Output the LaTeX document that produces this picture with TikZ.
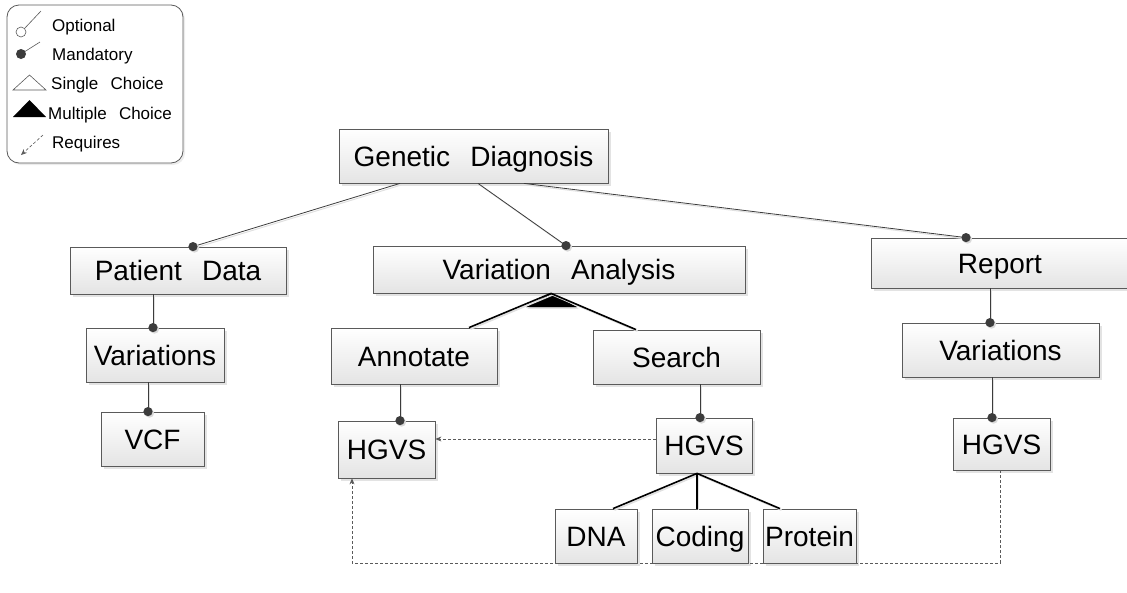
\documentclass[tikz,border=0pt]{standalone}
\usepackage{fontspec}
\setmainfont{Liberation Sans}
\usetikzlibrary{shadows,arrows.meta}
\definecolor{edgegray}{HTML}{5A5A5A}
\definecolor{dotgray}{HTML}{3C3C3C}
\definecolor{boxbot}{HTML}{E4E4E4}
\newcommand\gap{\hspace{0.72em}}
\tikzset{
  feat/.style={draw=edgegray, line width=0.8pt, rectangle, inner sep=0pt,
    top color=white, bottom color=boxbot,
    text height=20pt, text depth=0pt,
    drop shadow={opacity=0.22, shadow xshift=3pt, shadow yshift=-3pt},
    font=\fontsize{28}{32}\selectfont},
  conn/.style={draw=dotgray, line width=0.8pt,
    preaction={draw=black!12, line width=1pt, transform canvas={shift={(1.5pt,-1.5pt)}}}},
  choice/.style={draw=black, line width=1.6pt,
    preaction={draw=black!12, line width=1.6pt, transform canvas={shift={(1.5pt,-1.5pt)}}}},
  req/.style={draw=edgegray, line width=0.7pt, dash pattern=on 3pt off 2pt,
    -{Stealth[length=6pt,width=5pt]}},
  mdot/.style={fill=dotgray},
  legtext/.style={anchor=west, inner sep=0pt, text height=12.2pt, text depth=0pt,
    font=\fontsize{17}{19}\selectfont},
}
\newcommand\mand[1]{%
  \fill[black!15] ([shift={(1.5pt,-1.5pt)}]#1) circle (4.6);
  \fill[mdot] (#1) circle (4.6);}
\begin{document}
\begin{tikzpicture}[x=1pt,y=-1pt]
\useasboundingbox (0,0) rectangle (1127,592);

% legend
\draw[draw=edgegray, line width=0.8pt, rounded corners=12pt, fill=white,
  drop shadow={opacity=0.15, shadow xshift=2pt, shadow yshift=-2pt}]
  (7,5) rectangle (183,163);
\draw[edgegray, line width=0.6pt] (24.5,28.5) -- (41,11);
\draw[edgegray, line width=0.6pt, fill=white] (21,32) circle (5);
\node[legtext] (lopt) at (52,25) {Optional};
\draw[edgegray, line width=0.6pt] (21,54) -- (40,42);
\fill[dotgray] (21,54) circle (5);
\node[legtext] (lman) at (52,54) {Mandatory};
\draw[edgegray, line width=0.6pt, fill=white] (13,90) -- (46,90) -- (29.5,75) -- cycle;
\node[legtext] (lsin) at (51,83) {Single\gap Choice};
\fill[black] (13,117) -- (46,117) -- (29.5,100) -- cycle;
\node[legtext] (lmul) at (48,113) {Multiple\gap Choice};
\draw[req, line width=0.6pt] (43,135) -- (21,155);
\node[legtext] (lreq) at (52,142) {Requires};

% feature boxes
\node[feat, minimum width=269, minimum height=54] (gd) at (473.5,156) {Genetic\gap Diagnosis};
\node[feat, minimum width=216, minimum height=47] (pd) at (178,270.5) {Patient\gap Data};
\node[feat, minimum width=372, minimum height=47] (va) at (559,269.5) {Variation\gap Analysis};
\node[feat, minimum width=258, minimum height=50] (rep) at (1000,263) {Report};
\node[feat, minimum width=138, minimum height=54] (varL) at (155,355) {Variations};
\node[feat, minimum width=103, minimum height=54] (vcf) at (152.5,439) {VCF};
\node[feat, minimum width=166, minimum height=56] (ann) at (414,356) {Annotate};
\node[feat, minimum width=167, minimum height=54] (sea) at (676.5,357) {Search};
\node[feat, minimum width=97, minimum height=57] (hL) at (386.5,449.5) {HGVS};
\node[feat, minimum width=96, minimum height=55] (hM) at (704,445.5) {HGVS};
\node[feat, minimum width=197, minimum height=54] (varR) at (1000.5,350) {Variations};
\node[feat, minimum width=97, minimum height=52] (hR) at (1001.5,444) {HGVS};
\node[feat, minimum width=82, minimum height=54] (dna) at (596,536) {DNA};
\node[feat, minimum width=96, minimum height=54] (cod) at (700,536) {Coding};
\node[feat, minimum width=93, minimum height=54] (pro) at (809.5,536) {Protein};

% mandatory connectors
\draw[conn] (400,0 |- gd.south) -- (193,0 |- pd.north);
\draw[conn] (478,0 |- gd.south) -- (566,0 |- va.north);
\draw[conn] (524,0 |- gd.south) -- (966,0 |- rep.north);
\draw[conn] (153,0 |- pd.south) -- (153,0 |- varL.north);
\draw[conn] (148,0 |- varL.south) -- (148,0 |- vcf.north);
\draw[conn] (400,0 |- ann.south) -- (400,0 |- hL.north);
\draw[conn] (700,0 |- sea.south) -- (700,0 |- hM.north);
\draw[conn] (990,0 |- rep.south) -- (990,0 |- varR.north);
\draw[conn] (992,0 |- varR.south) -- (992,0 |- hR.north);
\mand{193,0 |- pd.north}
\mand{566,0 |- va.north}
\mand{966,0 |- rep.north}
\mand{990,0 |- varR.north}
\mand{153,0 |- varL.north}
\mand{148,0 |- vcf.north}
\mand{400,0 |- hL.north}
\mand{700,0 |- hM.north}
\mand{992,0 |- hR.north}

% multiple choice group under Variation Analysis
\fill[black!15] ([shift={(1.5pt,-1.5pt)}]551,293) -- (527.5,308.5) -- (578.5,308.5) -- cycle;
\fill[black] (551,0 |- va.south) -- (526,307) -- (577,307) -- cycle;
\draw[choice] (469,0 |- ann.north) -- (551,0 |- va.south) -- (636,0 |- sea.north);

% single choice group under the search HGVS
\draw[choice] (613,0 |- dna.north) -- (697,0 |- hM.south) -- (780,0 |- pro.north);
\draw[choice] (697,0 |- hM.south) -- (697,0 |- cod.north);

% requires constraints
\draw[req] (hM.west |- 0,439) -- (hL.east |- 0,439);
\draw[req] (1000,0 |- hR.south) -- (1000,563) -- (352,563) -- (352,0 |- hL.south);
\end{tikzpicture}
\end{document}
